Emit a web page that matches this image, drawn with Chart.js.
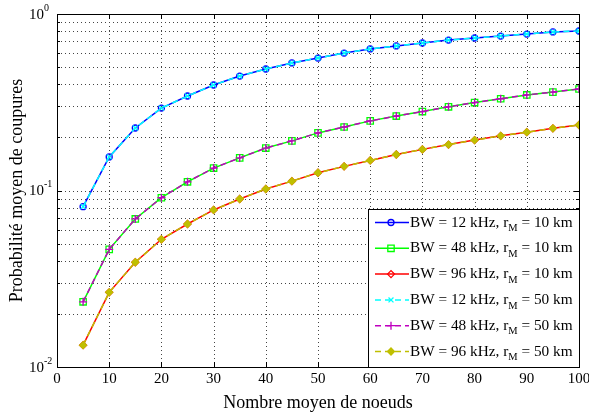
<!DOCTYPE html>
<html>
<head>
<meta charset="utf-8">
<script src="https://cdn.jsdelivr.net/npm/chart.js@4"></script>
<style>
  body { margin: 0; background: #fff; }
  canvas { display: block; }
</style>
</head>
<body>
<canvas id="outageChart" width="589" height="415"></canvas>
<script>
// nombre moyen de noeuds
const nodes = [5, 10, 15, 20, 25, 30, 35, 40, 45, 50, 55, 60, 65, 70, 75, 80, 85, 90, 95, 100];

// probabilite de coupure, rM = 10 km
const bw12r10 = [0.081, 0.155, 0.226, 0.293, 0.343, 0.396, 0.445, 0.488, 0.528, 0.563, 0.601, 0.634, 0.659, 0.685, 0.712, 0.731, 0.750, 0.770, 0.791, 0.801];
const bw48r10 = [0.0234, 0.0464, 0.069, 0.091, 0.112, 0.134, 0.153, 0.174, 0.191, 0.212, 0.229, 0.248, 0.264, 0.280, 0.298, 0.315, 0.331, 0.348, 0.361, 0.376];
const bw96r10 = [0.0133, 0.0265, 0.0392, 0.0529, 0.0646, 0.0776, 0.0895, 0.102, 0.113, 0.126, 0.137, 0.148, 0.160, 0.171, 0.182, 0.193, 0.204, 0.214, 0.225, 0.235];
// rM = 50 km (superposees)
const bw12r50 = [0.081, 0.155, 0.226, 0.293, 0.343, 0.396, 0.445, 0.488, 0.528, 0.563, 0.601, 0.634, 0.659, 0.685, 0.712, 0.731, 0.750, 0.770, 0.791, 0.801];
const bw48r50 = [0.0234, 0.0464, 0.069, 0.091, 0.112, 0.134, 0.153, 0.174, 0.191, 0.212, 0.229, 0.248, 0.264, 0.280, 0.298, 0.315, 0.331, 0.348, 0.361, 0.376];
const bw96r50 = [0.0133, 0.0265, 0.0392, 0.0529, 0.0646, 0.0776, 0.0895, 0.102, 0.113, 0.126, 0.137, 0.148, 0.160, 0.171, 0.182, 0.193, 0.204, 0.214, 0.225, 0.235];

const bwLabels = ["12", "48", "96", "12", "48", "96"];
const rmLabels = ["10", "10", "10", "50", "50", "50"];

const xTicks = [0, 10, 20, 30, 40, 50, 60, 70, 80, 90, 100];
const yMajor = [0.01, 0.1, 1];
const yMinor = [0.02, 0.03, 0.04, 0.05, 0.06, 0.07, 0.08, 0.09, 0.2, 0.3, 0.4, 0.5, 0.6, 0.7, 0.8, 0.9];

const serif = "'Liberation Serif', 'Times New Roman', serif";

function pts(ys) {
    return nodes.map((n, i) => ({ x: n, y: ys[i] }));
}

function series(ys, color, style, radius, dashed, fill) {
    return {
        data: pts(ys),
        borderColor: color,
        borderWidth: 1.5,
        borderDash: dashed ? [6, 4] : [],
        pointStyle: style,
        pointRadius: radius,
        pointBorderColor: color,
        pointBorderWidth: 1.3,
        pointBackgroundColor: fill ? color : "rgba(0,0,0,0)",
        fill: false,
        tension: 0,
        order: dashed ? 0 : 1
    };
}

const datasets = [
    series(bw12r10, "#0000ff", "circle", 3, false, false),
    series(bw48r10, "#00ff00", "rect", 4.5, false, false),
    series(bw96r10, "#ff0000", "rectRot", 3.5, false, false),
    series(bw12r50, "#00ffff", "crossRot", 3.5, true, false),
    series(bw48r50, "#bf00bf", "cross", 4, true, false),
    series(bw96r50, "#bfbf00", "rectRot", 3.5, true, true)
];

const matlabAxes = {
    id: "matlabAxes",
    beforeDatasetsDraw(chart) {
        const { ctx, chartArea: a, scales: { x, y } } = chart;
        ctx.save();
        ctx.strokeStyle = "#444";
        ctx.lineWidth = 1;
        ctx.setLineDash([1, 3]);
        yMinor.concat(yMajor).forEach(v => {
            const py = Math.round(y.getPixelForValue(v)) + 0.5;
            ctx.beginPath(); ctx.moveTo(a.left, py); ctx.lineTo(a.right, py); ctx.stroke();
        });
        xTicks.forEach(v => {
            const px = Math.round(x.getPixelForValue(v)) + 0.5;
            ctx.beginPath(); ctx.moveTo(px, a.top); ctx.lineTo(px, a.bottom); ctx.stroke();
        });
        ctx.setLineDash([]);
        ctx.strokeStyle = "#000";
        // petites graduations vers l'interieur
        yMinor.forEach(v => {
            const py = Math.round(y.getPixelForValue(v)) + 0.5;
            ctx.beginPath();
            ctx.moveTo(a.left, py); ctx.lineTo(a.left + 3, py);
            ctx.moveTo(a.right, py); ctx.lineTo(a.right - 3, py);
            ctx.stroke();
        });
        yMajor.forEach(v => {
            const py = Math.round(y.getPixelForValue(v)) + 0.5;
            ctx.beginPath();
            ctx.moveTo(a.left, py); ctx.lineTo(a.left + 5, py);
            ctx.moveTo(a.right, py); ctx.lineTo(a.right - 5, py);
            ctx.stroke();
        });
        xTicks.forEach(v => {
            const px = Math.round(x.getPixelForValue(v)) + 0.5;
            ctx.beginPath();
            ctx.moveTo(px, a.bottom); ctx.lineTo(px, a.bottom - 5);
            ctx.moveTo(px, a.top); ctx.lineTo(px, a.top + 5);
            ctx.stroke();
        });
        ctx.strokeRect(Math.round(a.left) + 0.5, Math.round(a.top) + 0.5,
            Math.round(a.right - a.left), Math.round(a.bottom - a.top));
        ctx.restore();
    },
    afterDraw(chart) {
        const { ctx, scales: { y } } = chart;
        ctx.save();
        ctx.fillStyle = "#000";
        yMajor.forEach(v => {
            const py = y.getPixelForValue(v);
            const e = Math.round(Math.log10(v));
            ctx.font = "15px " + serif;
            ctx.textAlign = "right";
            ctx.textBaseline = "middle";
            ctx.fillText("10", 44, py + 1);
            ctx.font = "10px " + serif;
            ctx.textAlign = "left";
            ctx.fillText(String(e), 44, py - 6);
        });
        ctx.restore();
    }
};

const matlabLegend = {
    id: "matlabLegend",
    afterDatasetsDraw(chart) {
        const { ctx, chartArea: a } = chart;
        const box = { left: 368, top: 209, right: Math.round(a.right), bottom: Math.round(a.bottom) };
        ctx.save();
        ctx.fillStyle = "#fff";
        ctx.fillRect(box.left, box.top, box.right - box.left, box.bottom - box.top);
        ctx.strokeStyle = "#000";
        ctx.lineWidth = 1;
        ctx.strokeRect(box.left + 0.5, box.top + 0.5, box.right - box.left, box.bottom - box.top);
        const rowH = 25.8;
        datasets.forEach((ds, i) => {
            const cy = box.top + 13.5 + i * rowH;
            ctx.strokeStyle = ds.borderColor;
            ctx.lineWidth = ds.borderWidth;
            ctx.setLineDash(ds.borderDash);
            ctx.beginPath(); ctx.moveTo(375, cy); ctx.lineTo(409, cy); ctx.stroke();
            ctx.setLineDash([]);
            ctx.fillStyle = ds.pointBackgroundColor;
            ctx.lineWidth = ds.pointBorderWidth;
            Chart.helpers.drawPoint(ctx, { pointStyle: ds.pointStyle, radius: ds.pointRadius, rotation: 0, borderWidth: ds.pointBorderWidth }, 391, cy);
            ctx.fillStyle = "#000";
            ctx.textBaseline = "middle";
            ctx.textAlign = "left";
            ctx.font = "15.3px " + serif;
            let tx = 410;
            const t1 = "BW = " + bwLabels[i] + " kHz, r";
            ctx.fillText(t1, tx, cy);
            tx += ctx.measureText(t1).width;
            ctx.font = "10.5px " + serif;
            ctx.fillText("M", tx, cy + 6);
            tx += ctx.measureText("M").width;
            ctx.font = "15.3px " + serif;
            ctx.fillText(" = " + rmLabels[i] + " km", tx, cy);
        });
        ctx.restore();
    }
};

new Chart(document.getElementById("outageChart"), {
    type: "line",
    data: { datasets: datasets },
    options: {
        responsive: false,
        animation: false,
        events: [],
        layout: { padding: { top: 14, right: 10, left: 0, bottom: 0 } },
        plugins: { legend: { display: false }, tooltip: { enabled: false } },
        scales: {
            x: {
                type: "linear",
                min: 0,
                max: 100,
                ticks: { stepSize: 10, color: "#000", font: { family: serif, size: 15 }, padding: 3, maxRotation: 0 },
                grid: { display: false, drawTicks: false },
                border: { display: false },
                title: { display: true, text: "Nombre moyen de noeuds", color: "#000", font: { family: serif, size: 18 }, padding: { top: 0, bottom: 1 } },
                afterFit(s) { s.height = 48; s.paddingRight = 0; s.paddingLeft = 0; }
            },
            y: {
                type: "logarithmic",
                min: 0.01,
                max: 1,
                ticks: { display: false },
                grid: { display: false, drawTicks: false },
                border: { display: false },
                title: { display: true, text: "Probabilité moyen de coupures", color: "#000", font: { family: serif, size: 18 }, padding: { top: 6, bottom: 0 } },
                afterFit(s) { s.width = 57; s.paddingTop = 0; s.paddingBottom = 0; }
            }
        }
    },
    plugins: [matlabAxes, matlabLegend]
});
</script>
</body>
</html>
